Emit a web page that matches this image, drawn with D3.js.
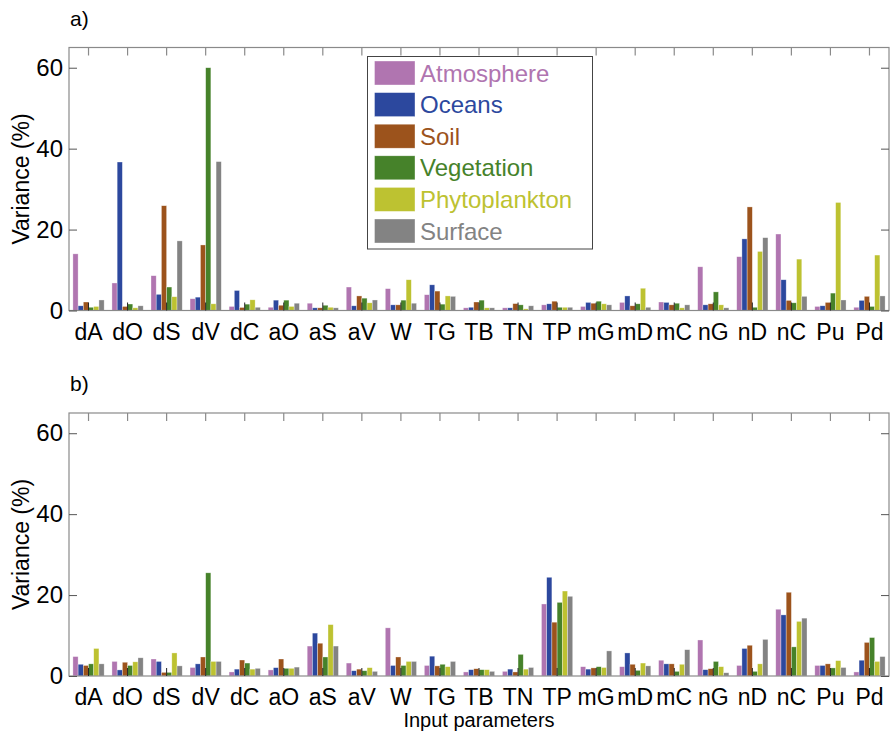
<!DOCTYPE html>
<html><head><meta charset="utf-8">
<script src="https://cdn.jsdelivr.net/npm/d3@7"></script>
<style>body{margin:0;background:#fff}svg{display:block}text{font-family:"Liberation Sans",Arial,sans-serif}</style>
</head><body><svg id="c" width="894" height="741"></svg>
<script>
const categories = ["dA","dO","dS","dV","dC","aO","aS","aV","W","TG","TB","TN","TP","mG","mD","mC","nG","nD","nC","Pu","Pd"];
const seriesNames = ["Atmosphere","Oceans","Soil","Vegetation","Phytoplankton","Surface"];
const yTicks = [0,20,40,60];

const atmosphereA = [14.0,6.8,8.6,2.9,1.0,0.8,1.8,5.8,5.4,3.9,0.66,0.66,1.4,1.0,2.0,2.1,10.8,13.3,18.9,1.0,0.8];
const oceansA     = [1.16,36.7,4.0,3.3,4.95,2.56,0.66,1.16,1.4,6.35,0.8,0.66,1.65,2.0,3.6,2.0,1.4,17.7,7.6,1.16,2.5];
const soilA       = [2.1,1.0,25.9,16.2,0.75,1.3,0.66,3.6,1.4,4.8,2.1,1.7,2.3,1.8,1.16,1.4,1.65,25.6,2.5,2.0,3.5];
const vegetationA = [0.8,1.6,5.8,60.0,1.57,2.56,1.3,3.05,2.56,1.57,2.56,1.4,0.8,2.3,1.65,1.8,4.6,0.8,1.9,4.3,1.0];
const phytoA      = [1.0,0.66,3.4,1.65,2.64,1.0,0.8,1.9,7.6,3.6,0.66,0.4,0.8,1.65,5.5,0.66,1.4,14.6,12.7,26.7,13.7];
const surfaceA    = [2.6,1.16,17.2,36.8,0.8,1.8,0.66,2.6,1.8,3.5,0.66,1.16,0.8,1.4,0.8,1.4,0.66,18.0,3.5,2.6,3.6];

const atmosphereB = [4.8,3.6,4.2,2.1,1.0,1.5,7.4,3.2,11.9,2.6,1.0,1.15,17.8,2.3,2.3,3.9,8.9,2.6,16.5,2.6,1.0];
const oceansB     = [2.9,1.5,3.6,3.0,1.7,2.06,10.6,1.3,2.6,4.9,1.56,1.7,24.4,1.7,5.7,3.0,1.56,6.8,15.1,2.6,3.9];
const soilB       = [2.6,3.4,0.9,4.7,3.95,4.2,8.1,1.7,4.7,2.5,1.8,1.0,13.3,2.0,2.9,3.0,1.8,7.6,20.7,3.0,8.3];
const vegetationB = [3.0,2.6,0.9,25.5,3.2,1.9,4.7,1.3,2.6,2.9,1.56,5.35,18.2,2.3,1.4,1.15,3.6,1.15,7.2,2.0,9.5];
const phytoB      = [6.8,3.5,5.7,3.6,1.7,1.9,12.7,2.06,3.6,2.3,1.56,1.7,21.0,2.1,3.2,2.9,2.3,3.0,13.5,3.8,3.6];
const surfaceB    = [3.0,4.5,2.5,3.6,1.9,2.2,7.4,1.15,3.6,3.6,1.15,2.1,19.7,6.2,2.5,6.5,0.8,9.05,14.3,2.1,4.8];

const colors = ["#b075b0","#2c489e","#9c531c","#46822a","#bdc231","#838383"];

const svg = d3.select("#c");
const L = 69, R = 889;
const x = d3.scaleBand().domain(categories).range([L, R]).paddingInner(0).paddingOuter(0);
const bw = x.bandwidth();
const xs = d3.scaleBand().domain(seriesNames).range([bw*0.1, bw*0.9]).padding(0);

function panel(top, bottom, data, label, showLegend){
  const y = d3.scaleLinear().domain([0,65]).range([bottom, top]);
  const g = svg.append("g");
  seriesNames.forEach((s,si)=>{
    g.append("g").selectAll("rect").data(data[si]).join("rect")
      .attr("x",(d,i)=>x(categories[i])+xs(s))
      .attr("y",d=>y(d))
      .attr("width",xs.bandwidth())
      .attr("height",d=>y(0)-y(d))
      .attr("fill",colors[si])
      .attr("stroke","rgba(255,255,255,0.55)")
      .attr("stroke-width",0.6);
  });
  g.append("rect").attr("x",L).attr("y",top).attr("width",R-L).attr("height",bottom-top)
    .attr("fill","none").attr("stroke","#8a8a8a").attr("stroke-width",1.2);
  const xb = d3.axisBottom(x).tickSize(-8).tickPadding(13);
  const gx = g.append("g").attr("transform",`translate(0,${bottom})`).call(xb);
  gx.select(".domain").remove();
  gx.selectAll(".tick line").attr("stroke","#222").attr("stroke-width",1);
  gx.selectAll(".tick text").attr("font-size",23).attr("fill","#000");
  const xt = d3.axisTop(x).tickSize(-8).tickFormat("");
  const gt = g.append("g").attr("transform",`translate(0,${top})`).call(xt);
  gt.select(".domain").remove();
  gt.selectAll(".tick line").attr("stroke","#8a8a8a").attr("stroke-width",1.2);
  const yl = d3.axisLeft(y).tickValues(yTicks).tickSize(-8).tickPadding(6);
  const gy = g.append("g").attr("transform",`translate(${L},0)`).call(yl);
  gy.select(".domain").remove();
  gy.selectAll(".tick line").attr("stroke","#555").attr("stroke-width",1);
  gy.selectAll(".tick text").attr("font-size",24).attr("fill","#000");
  const yr = d3.axisRight(y).tickValues(yTicks).tickSize(-8).tickFormat("");
  const gr = g.append("g").attr("transform",`translate(${R},0)`).call(yr);
  gr.select(".domain").remove();
  gr.selectAll(".tick line").attr("stroke","#555").attr("stroke-width",1);
  g.append("text").attr("transform",`translate(29,${(top+bottom)/2}) rotate(-90)`)
    .attr("text-anchor","middle").attr("font-size",23).text("Variance (%)");
  g.append("text").attr("x",70).attr("y",top-22).attr("font-size",21).text(label);

  if(showLegend){
    const lg = svg.append("g");
    lg.append("rect").attr("x",367.5).attr("y",56.5).attr("width",225).attr("height",192.5)
      .attr("fill","#fff").attr("stroke","#444").attr("stroke-width",1);
    seriesNames.forEach((s,si)=>{
      const cy = 73 + si*31.6;
      lg.append("rect").attr("x",374.5).attr("y",cy-12).attr("width",40.5).attr("height",24)
        .attr("fill",colors[si]).attr("stroke","rgba(255,255,255,0.6)").attr("stroke-width",0.6);
      lg.append("text").attr("x",420).attr("y",cy+8.5).attr("font-size",24).attr("fill",colors[si]).text(s);
    });
  }
}

panel(47.5, 310.5, [atmosphereA,oceansA,soilA,vegetationA,phytoA,surfaceA], "a)", true);
panel(413, 676, [atmosphereB,oceansB,soilB,vegetationB,phytoB,surfaceB], "b)", false);

svg.append("text").attr("x",(L+R)/2).attr("y",727).attr("text-anchor","middle").attr("font-size",20).text("Input parameters");
</script></body></html>
